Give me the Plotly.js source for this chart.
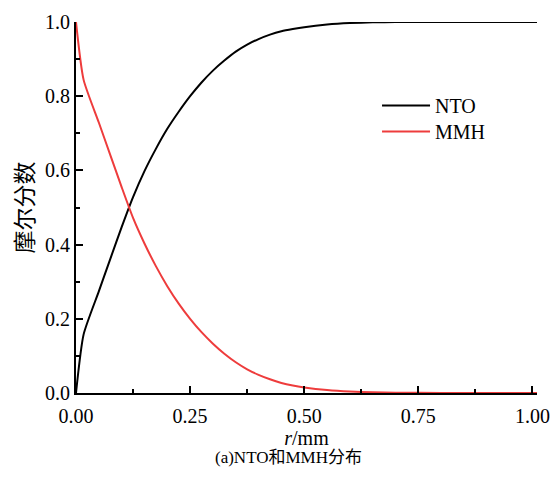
<!DOCTYPE html>
<html>
<head>
<meta charset="utf-8">
<script src="https://cdn.plot.ly/plotly-3.0.1.min.js"></script>
<style>html,body{margin:0;padding:0;background:#fff;}#chart{width:555px;height:477px;}</style>
</head>
<body>
<div id="chart"></div>
<script>
// radial position r (mm)
const r = [0, 0.0167, 0.05, 0.075, 0.1, 0.125, 0.15, 0.175, 0.2, 0.225, 0.25, 0.275, 0.3, 0.325, 0.35, 0.375, 0.4, 0.425, 0.45, 0.475, 0.5, 0.55, 0.6, 0.65, 0.7, 0.8, 0.9, 1.01];
// mole fraction of NTO
const nto = [0, 0.158, 0.274, 0.361, 0.447, 0.528, 0.598, 0.658, 0.712, 0.758, 0.800, 0.837, 0.869, 0.896, 0.920, 0.939, 0.954, 0.966, 0.975, 0.981, 0.986, 0.993, 0.997, 0.999, 1.0, 1.0, 1.0, 1.0];
// mole fraction of MMH
const mmh = [1.0, 0.844, 0.729, 0.642, 0.555, 0.472, 0.403, 0.342, 0.288, 0.241, 0.200, 0.164, 0.133, 0.106, 0.083, 0.064, 0.049, 0.037, 0.027, 0.020, 0.015, 0.008, 0.004, 0.002, 0.001, 0, 0, 0];
const seriesNames = ["NTO", "MMH"];
const xTicks = [0, 0.25, 0.5, 0.75, 1.0];
const xTickText = ["0.00", "0.25", "0.50", "0.75", "1.00"];
const xMinor = [0.125, 0.375, 0.625, 0.875];
const yTicks = [0, 0.2, 0.4, 0.6, 0.8, 1.0];
const yTickText = ["0.0", "0.2", "0.4", "0.6", "0.8", "1.0"];
const yMinor = [0.1, 0.3, 0.5, 0.7, 0.9];
const xTitle = "<i>r</i>/mm";
const yTitle = "摩尔分数";
const caption = "(a)NTO和MMH分布";

const FONT = "'Liberation Serif', 'Times New Roman', 'Noto Sans CJK SC', serif";

const traces = [
  {x: r, y: nto, name: seriesNames[0], mode: "lines", legend: "legend",
   line: {color: "#000000", width: 2, shape: "spline", smoothing: 0.6}},
  {x: r, y: mmh, name: seriesNames[1], mode: "lines", legend: "legend2",
   line: {color: "#ee3c3c", width: 2, shape: "spline", smoothing: 0.6}}
];

// minor ticks drawn as tick-only overlay axes (inside direction)
traces.push({x: [0], y: [0], xaxis: "x2", yaxis: "y2", mode: "none", showlegend: false, hoverinfo: "skip"});

const axCommon = {
  showline: true, linecolor: "#000", linewidth: 2, mirror: false,
  ticks: "inside", ticklen: 7, tickwidth: 2, tickcolor: "#000",
  showgrid: false, zeroline: false, tickfont: {family: FONT, size: 20}
};

const layout = {
  width: 555, height: 477,
  margin: {l: 76, r: 18, t: 22, b: 84},
  paper_bgcolor: "#fff", plot_bgcolor: "#fff",
  font: {family: FONT, size: 20, color: "#000"},
  showlegend: true,
  legend: {x: 0.653, y: 0.7746, xanchor: "left", yanchor: "middle", bgcolor: "rgba(0,0,0,0)",
           font: {family: FONT, size: 20}, itemwidth: 48},
  legend2: {x: 0.653, y: 0.7046, xanchor: "left", yanchor: "middle", bgcolor: "rgba(0,0,0,0)",
           font: {family: FONT, size: 20}, itemwidth: 48},
  xaxis: Object.assign({}, axCommon, {
    range: [0, 1.01], tickmode: "array", tickvals: xTicks, ticktext: xTickText,
    ticklabelstandoff: 4,
    title: {text: xTitle, font: {family: FONT, size: 20}, standoff: 2}
  }),
  yaxis: Object.assign({}, axCommon, {
    range: [0, 1.0], tickmode: "array", tickvals: yTicks, ticktext: yTickText,
    title: {text: yTitle, font: {family: "'Noto Sans CJK SC', sans-serif", size: 23}, standoff: 5}
  }),
  xaxis2: {overlaying: "x", matches: "x", anchor: "y", range: [0, 1.01], tickmode: "array", tickvals: xMinor,
           ticks: "inside", ticklen: 4, tickwidth: 2, tickcolor: "#000", showticklabels: false,
           showline: false, showgrid: false, zeroline: false, side: "bottom"},
  yaxis2: {overlaying: "y", anchor: "x", range: [0, 1.0], tickmode: "array", tickvals: yMinor,
           ticks: "inside", ticklen: 4, tickwidth: 2, tickcolor: "#000", showticklabels: false,
           showline: false, showgrid: false, zeroline: false, side: "left"},
  annotations: [{
    text: caption, xref: "paper", yref: "paper", x: 0.462, y: -0.175,
    xanchor: "center", yanchor: "middle", showarrow: false,
    font: {family: "'Liberation Serif', 'Noto Sans CJK SC', serif", size: 17, color: "#000"}
  }]
};

Plotly.newPlot("chart", traces, layout, {displayModeBar: false, staticPlot: true});
</script>
</body>
</html>
